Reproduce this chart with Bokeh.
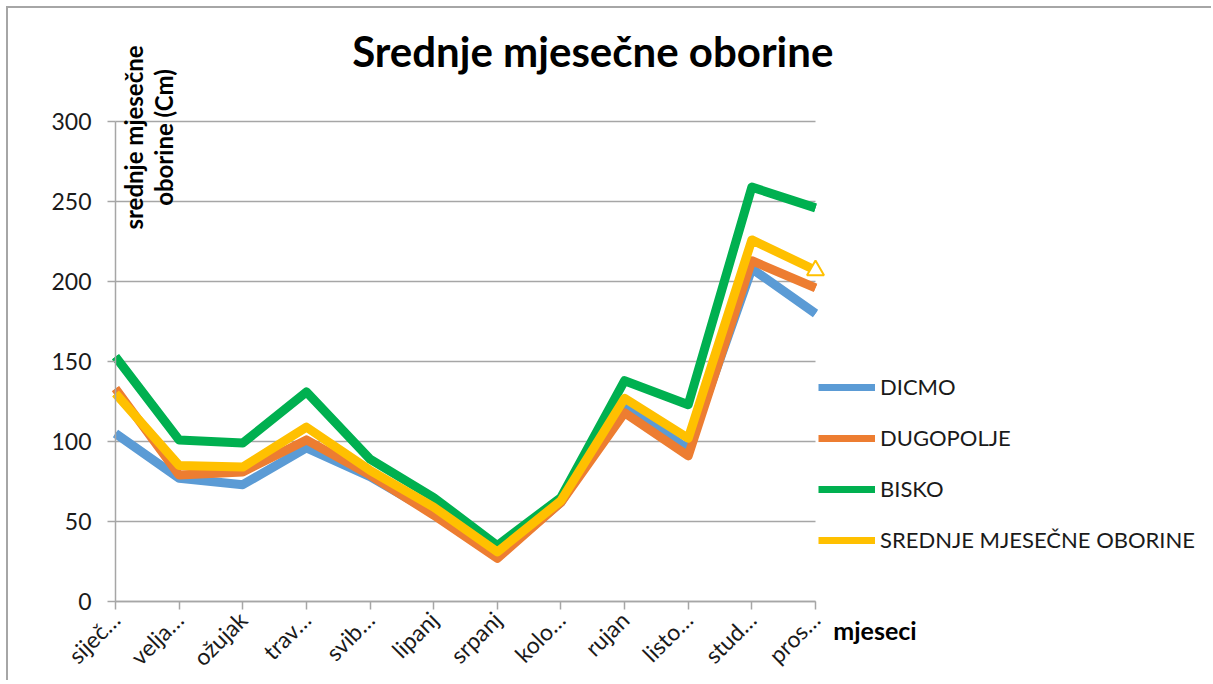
import math
from bokeh.plotting import figure
from bokeh.models import Range1d, FixedTicker, Label, Legend, LegendItem
from bokeh.embed import file_html
from bokeh.resources import INLINE

months = ["siječ…", "velja…", "ožujak", "trav…", "svib…", "lipanj",
          "srpanj", "kolo…", "rujan", "listo…", "stud…", "pros…"]
dicmo = [105, 77, 73, 96, 78, 55, 28, 62, 124, 95, 208, 180]
dugopolje = [133, 79, 81, 101, 79, 54, 27, 62, 118, 91, 213, 196]
bisko = [153, 101, 99, 131, 89, 65, 35, 65, 138, 123, 259, 246]
srednje = [130, 85, 84, 109, 82, 59, 31, 63, 127, 102, 226, 207]
series_names = ["DICMO", "DUGOPOLJE", "BISKO", "SREDNJE MJESEČNE OBORINE"]
y_ticks = [0, 50, 100, 150, 200, 250, 300]

colors = ["#5B9BD5", "#ED7D31", "#00B050", "#FFC000"]
FONT = "Lato"
GRAY = "#a6a6a6"

x = list(range(len(months)))
y_min, y_max = y_ticks[0], y_ticks[-1]
series = [dicmo, dugopolje, bisko, srednje]

# layout (canvas pixels): plot area left/top/right/bottom
W, H = 1205, 674
AX_L, AX_T, AX_R, AX_B = 107, 113, 807, 593
sx = (AX_R - AX_L) / (len(months) - 1)
sy = (AX_B - AX_T) / (y_max - y_min)
x_rng = Range1d(-AX_L / sx, (W - AX_L) / sx)
y_rng = Range1d(y_min - (H - AX_B) / sy, y_min + AX_B / sy)

p = figure(width=W, height=H, output_backend="svg", toolbar_location=None,
           x_range=x_rng, y_range=y_rng, title_location=None,
           min_border=0, min_border_left=0, min_border_right=0,
           min_border_top=0, min_border_bottom=0)
p.styles = {"margin-left": "6px", "margin-top": "6px",
            "border-left": "2px solid " + GRAY, "border-top": "2px solid " + GRAY}
p.outline_line_color = None
p.background_fill_color = "white"
p.border_fill_color = "white"

# grid lines (drawn only across the plot area)
p.xgrid.visible = False
p.ygrid.visible = False
p.segment(x0=[x[0]] * len(y_ticks), x1=[x[-1]] * len(y_ticks), y0=y_ticks, y1=y_ticks,
          line_color=GRAY, line_width=1.5)

# axes placed at data locations, limited to the data extent
p.yaxis.fixed_location = x[0]
p.yaxis.bounds = (y_min, y_max)
p.xaxis.fixed_location = y_min
p.xaxis.bounds = (x[0], x[-1])
p.yaxis.ticker = FixedTicker(ticks=y_ticks)
p.xaxis.ticker = FixedTicker(ticks=x)
p.xaxis.major_label_overrides = {i: m for i, m in enumerate(months)}
p.xaxis.major_label_orientation = math.pi / 4
for ax in (p.xaxis, p.yaxis):
    ax.axis_line_color = GRAY
    ax.axis_line_width = 1.5
    ax.major_tick_line_color = GRAY
    ax.major_tick_line_width = 1.5
    ax.major_tick_in = 0
    ax.major_tick_out = 8
    ax.minor_tick_line_color = None
    ax.major_label_text_font = FONT
    ax.major_label_text_color = "#1a1a1a"
p.yaxis.major_label_text_font_size = "23px"
p.yaxis.major_label_standoff = 16
p.xaxis.major_label_text_font_size = "23px"
p.xaxis.major_label_standoff = 6

# legend swatches: thinner lines drawn underneath the series lines (hidden by them)
swatches = [p.line(x, data, line_color=c, line_width=7, line_cap="butt")
            for data, c in zip(series, colors)]

for data, c in zip(series, colors):
    p.line(x, data, line_color=c, line_width=9, line_join="round")

# hollow triangle at last point of the average series
p.scatter([x[-1]], [srednje[-1]], marker="triangle", size=17,
          line_color="#FFC000", fill_color="white", line_width=2)

legend = Legend(items=[LegendItem(label=n, renderers=[r]) for n, r in zip(series_names, swatches)],
                location=(810, 129), orientation="vertical",
                glyph_width=57, glyph_height=20, label_standoff=5, spacing=24,
                padding=0, margin=0, border_line_color=None,
                background_fill_alpha=0, label_text_font=FONT,
                label_text_font_size="22px", label_text_color="#1a1a1a",
                label_height=20)
p.add_layout(legend, "center")

# title
p.add_layout(Label(x=7.5, y=344, text="Srednje mjesečne oborine",
                   text_font=FONT, text_font_size="42px", text_font_style="bold",
                   text_align="center", text_baseline="middle", text_color="black"))
# y axis title (two lines, rotated)
p.add_layout(Label(x=0.29, y=290, text="srednje mjesečne", angle=math.pi / 2,
                   text_font=FONT, text_font_size="24px", text_font_style="bold",
                   text_align="center", text_baseline="middle", text_color="black"))
p.add_layout(Label(x=0.76, y=290, text="oborine (Cm)", angle=math.pi / 2,
                   text_font=FONT, text_font_size="24px", text_font_style="bold",
                   text_align="center", text_baseline="middle", text_color="black"))
# x axis title
p.add_layout(Label(x=11.28, y=-17.5, text="mjeseci",
                   text_font=FONT, text_font_size="25px", text_font_style="bold",
                   text_align="left", text_baseline="middle", text_color="black"))

open("out.html", "w").write(file_html(p, INLINE))
